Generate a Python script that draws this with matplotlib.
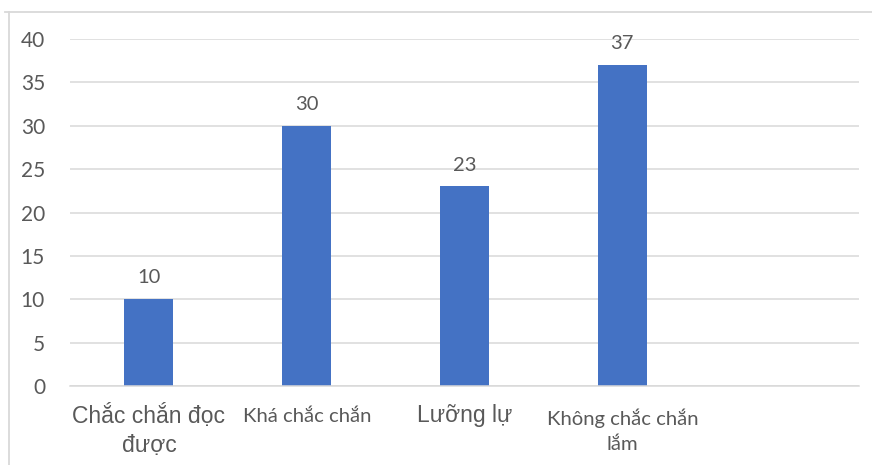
import matplotlib
matplotlib.use("Agg")
import matplotlib.pyplot as plt
from matplotlib.lines import Line2D

categories = ["Chắc chắn đọc\nđược", "Khá chắc chắn", "Lưỡng lự", "Không chắc chắn\nlắm", ""]
values = [10, 30, 23, 37]
y_ticks = [0, 5, 10, 15, 20, 25, 30, 35, 40]

BAR = "#4472C4"
GRID = "#D9D9D9"
TEXT = "#595959"

fig = plt.figure(figsize=(8.72, 4.65), dpi=100)
ax = fig.add_axes([70 / 872, 1 - 386 / 465, (859 - 70) / 872, (386 - 39) / 465])

x = list(range(len(categories)))
bars = ax.bar(x[:len(values)], values, width=0.31, color=BAR, zorder=3)

for xi, v in zip(x, values):
    ax.annotate(str(v), (xi, v), xytext=(0, 11.5), textcoords="offset points",
                ha="center", va="baseline", fontsize=14.5, family="Lato", color=TEXT)

ax.set_xlim(-0.5, len(categories) - 0.5)
ax.set_ylim(0, 40)
ax.set_yticks(y_ticks)
ax.set_yticklabels([str(t) for t in y_ticks], family="Lato", fontsize=15, color=TEXT)
ax.set_xticks(x)
ax.set_xticklabels(categories, color=TEXT)

ax.tick_params(axis="both", length=0)
ax.tick_params(axis="y", pad=18)

# (family, size, line spacing, pad in points)
label_fonts = [("Liberation Sans", 16.5, 1.35, 13), ("Lato", 14.6, 1.6, 16),
               ("Liberation Sans", 16.5, 1.35, 13), ("Lato", 14.6, 1.6, 16),
               ("Lato", 14.6, 1.6, 16)]
for tick, (fam, size, ls, pad) in zip(ax.xaxis.get_major_ticks(), label_fonts):
    tick.set_pad(pad)
    lbl = tick.label1
    lbl.set_family(fam)
    lbl.set_fontsize(size)
    lbl.set_linespacing(ls)
    lbl.set_verticalalignment("top")

ax.grid(axis="y", color=GRID, linewidth=1.1, zorder=0)
for side in ["top", "right", "left"]:
    ax.spines[side].set_visible(False)
ax.spines["bottom"].set_color(GRID)
ax.spines["bottom"].set_linewidth(1.1)
ax.spines["bottom"].set_zorder(4)

# chart area border (top and left edges)
fig.add_artist(Line2D([5 / 872, 1], [1 - 12 / 465, 1 - 12 / 465], color=GRID, linewidth=1.3))
fig.add_artist(Line2D([9 / 872, 9 / 872], [0, 1 - 12 / 465], color=GRID, linewidth=1.3))

fig.savefig("out.png", dpi=100, facecolor="white")
